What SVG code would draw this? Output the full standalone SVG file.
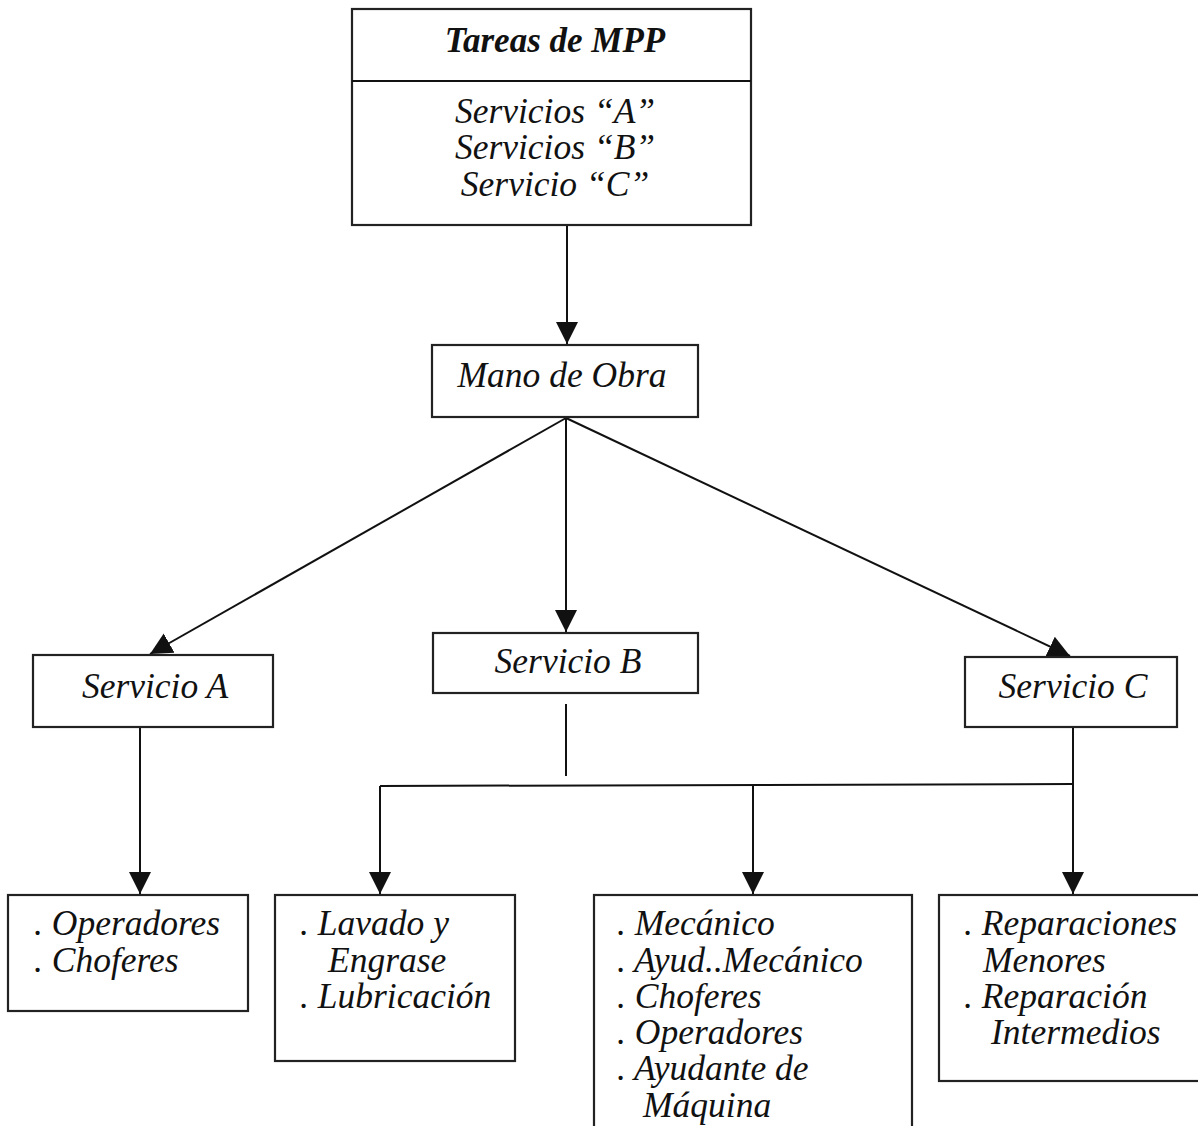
<svg xmlns="http://www.w3.org/2000/svg" width="1198" height="1126" viewBox="0 0 1198 1126">
<style>
.box{fill:#fff;stroke:#222;stroke-width:2.2}
.t{font-family:"Liberation Serif","Times New Roman",serif;font-style:italic;font-size:35.5px;fill:#111}
.c{text-anchor:middle}
.b{font-weight:bold;font-size:35px}
.ln{fill:none;stroke:#111;stroke-width:2}
</style>
<defs>
<marker id="ah" markerUnits="userSpaceOnUse" markerWidth="24" markerHeight="24" viewBox="0 0 24 24" refX="22" refY="12" orient="auto">
<path d="M0,1 L22,12 L0,23 Z" fill="#111"/>
</marker>
</defs>
<rect width="1198" height="1126" fill="#fff"/>
<g id="connectors">
<line class="ln" x1="567" y1="225" x2="567" y2="344" marker-end="url(#ah)"/>
<line class="ln" x1="566" y1="418" x2="150" y2="654" marker-end="url(#ah)"/>
<line class="ln" x1="566" y1="418" x2="566" y2="632" marker-end="url(#ah)"/>
<line class="ln" x1="566" y1="418" x2="1070" y2="656" marker-end="url(#ah)"/>
<line class="ln" x1="140" y1="727" x2="140" y2="894" marker-end="url(#ah)"/>
<line class="ln" x1="566" y1="704" x2="566" y2="776"/>
<polyline class="ln" points="380,786 1073,784"/>
<line class="ln" x1="380" y1="786" x2="380" y2="894" marker-end="url(#ah)"/>
<line class="ln" x1="753" y1="785" x2="753" y2="894" marker-end="url(#ah)"/>
<line class="ln" x1="1073" y1="727" x2="1073" y2="894" marker-end="url(#ah)"/>
</g>
<g id="tareas">
<rect class="box" x="352" y="9" width="399" height="216"/>
<line class="ln" x1="352" y1="81" x2="751" y2="81" stroke-width="2.2"/>
<text class="t c b" x="555" y="52">Tareas de MPP</text>
<text class="t c" x="555" y="123">Servicios “A”</text>
<text class="t c" x="555" y="159">Servicios “B”</text>
<text class="t c" x="555" y="196">Servicio “C”</text>
</g>
<g id="mano">
<rect class="box" x="432" y="345" width="266" height="72"/>
<text class="t c" x="562" y="387">Mano de Obra</text>
</g>
<g id="servA">
<rect class="box" x="33" y="655" width="240" height="72"/>
<text class="t c" x="155" y="698">Servicio A</text>
</g>
<g id="servB">
<rect class="box" x="433" y="633" width="265" height="60"/>
<text class="t c" x="568" y="673">Servicio B</text>
</g>
<g id="servC">
<rect class="box" x="965" y="657" width="212" height="70"/>
<text class="t c" x="1073" y="698">Servicio C</text>
</g>
<g id="boxA">
<rect class="box" x="8" y="895" width="240" height="116"/>
<text class="t" x="34" y="935">. Operadores</text>
<text class="t" x="34" y="972">. Choferes</text>
</g>
<g id="boxB">
<rect class="box" x="275" y="895" width="240" height="166"/>
<text class="t" x="300" y="935">. Lavado y</text>
<text class="t" x="328" y="972">Engrase</text>
<text class="t" x="300" y="1008">. Lubricación</text>
</g>
<g id="boxBC">
<rect class="box" x="594" y="895" width="318" height="240"/>
<text class="t" x="617" y="935">. Mecánico</text>
<text class="t" x="617" y="972">. Ayud..Mecánico</text>
<text class="t" x="617" y="1008">. Choferes</text>
<text class="t" x="617" y="1044">. Operadores</text>
<text class="t" x="617" y="1080">. Ayudante de</text>
<text class="t" x="643" y="1117">Máquina</text>
</g>
<g id="boxC">
<rect class="box" x="939" y="895" width="262" height="186"/>
<text class="t" x="964" y="935">. Reparaciones</text>
<text class="t" x="983" y="972">Menores</text>
<text class="t" x="964" y="1008">. Reparación</text>
<text class="t" x="991" y="1044">Intermedios</text>
</g>
</svg>
